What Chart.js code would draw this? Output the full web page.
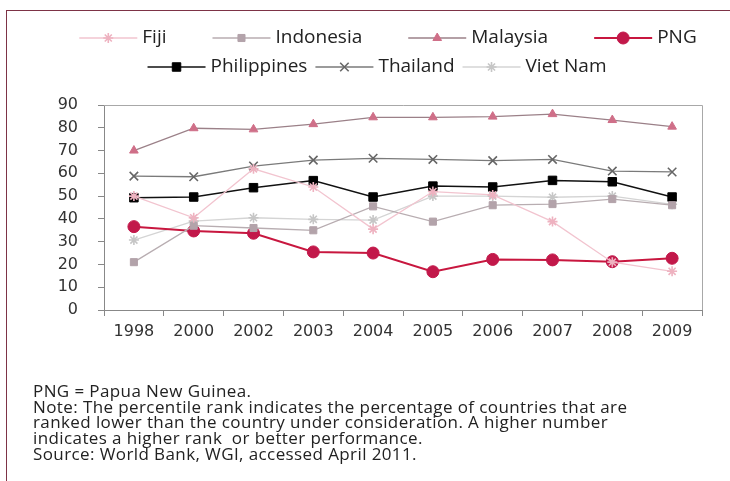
<!DOCTYPE html>
<html>
<head>
<meta charset="utf-8">
<script src="https://cdn.jsdelivr.net/npm/chart.js@4"></script>
<style>
  body { margin: 0; background: #fff; }
  #wrap { position: relative; width: 730px; height: 481px; overflow: hidden; }
  #frame { position: absolute; left: 6px; top: 10px; width: 760px; height: 500px;
           border-top: 1.5px solid #7d3346; border-left: 1.5px solid #7d3346; }
  canvas { position: absolute; left: 0; top: 0; }
  #notes { position: absolute; left: 33px; top: 383px; font-family: "Open Sans", sans-serif;
           font-size: 17px; line-height: 15.7px; color: #222; white-space: nowrap; letter-spacing: 0.4px; }
</style>
</head>
<body>
<div id="wrap">
  <div id="frame"></div>
  <canvas id="grafico" width="730" height="481"></canvas>
  <div id="notes">
    PNG = Papua New Guinea.<br>
    Note: The percentile rank indicates the percentage of countries that are<br>
    ranked lower than the country under consideration. A higher number<br>
    indicates a higher rank&nbsp; or better performance.<br>
    Source: World Bank, WGI, accessed April 2011.
  </div>
</div>
<script>
const anios = ['1998', '2000', '2002', '2003', '2004', '2005', '2006', '2007', '2008', '2009'];
const fiji        = [50, 40.5, 62, 54, 35.5, 52, 50.5, 38.8, 21, 17];
const indonesia   = [21, 37, 36, 35, 45.5, 38.8, 46, 46.5, 48.7, 46];
const malaysia    = [70, 79.8, 79.3, 81.6, 84.6, 84.6, 84.9, 86, 83.4, 80.5];
const png         = [36.6, 34.7, 33.7, 25.5, 25, 16.8, 22.2, 22, 21.2, 22.7];
const philippines = [49.3, 49.6, 53.7, 56.8, 49.6, 54.4, 54, 56.9, 56.3, 49.6];
const thailand    = [58.8, 58.5, 63.2, 65.8, 66.6, 66.1, 65.6, 66.1, 61, 60.6];
const vietnam     = [30.7, 39, 40.5, 39.8, 39.5, 50, 50, 49.5, 50, 46.4];
const ticksY = [0, 10, 20, 30, 40, 50, 60, 70, 80, 90];

function serie(label, data, linea, punto, estilo, radio, grosor) {
    return {
        label: label,
        data: data,
        borderColor: linea,
        backgroundColor: punto,
        pointBorderColor: punto,
        pointBackgroundColor: punto,
        pointStyle: estilo,
        pointRadius: radio,
        pointBorderWidth: estilo === 'crossRot' || estilo === 'star' ? 1.6 : 1,
        borderWidth: grosor,
        tension: 0
    };
}

const series = [
    serie('Fiji', fiji, '#f2c4cf', '#eeb2c0', 'star', 5, 1.3),
    serie('Indonesia', indonesia, '#b8adb1', '#b3a3aa', 'rect', 5, 1.3),
    serie('Malaysia', malaysia, '#9b8088', '#cf6f88', 'triangle', 5, 1.3),
    serie('PNG', png, '#c8173f', '#c2184a', 'circle', 6, 2),
    serie('Philippines', philippines, '#111111', '#000000', 'rect', 6, 1.5),
    serie('Thailand', thailand, '#7a7a7a', '#666666', 'crossRot', 6, 1.3),
    serie('Viet Nam', vietnam, '#d4d4d4', '#c6c6c6', 'star', 5, 1.3)
];

// leyenda con línea + marcador, dibujada en el canvas
const leyendaLineas = {
    id: 'leyendaLineas',
    afterDraw(chart) {
        const ctx = chart.ctx;
        const filas = [[0, 1, 2, 3], [4, 5, 6]];
        const ys = [38, 67];
        const centros = [388, 377];
        const separacion = [46, 8];
        const largo = 58;
        ctx.save();
        ctx.font = '19px "Open Sans"';
        ctx.textBaseline = 'middle';
        filas.forEach((fila, f) => {
            const anchos = fila.map(i => largo + 5 + ctx.measureText(chart.data.datasets[i].label).width);
            const total = anchos.reduce((a, b) => a + b, 0) + separacion[f] * (fila.length - 1);
            let x = centros[f] - total / 2;
            fila.forEach((i, k) => {
                const ds = chart.data.datasets[i];
                const y = ys[f];
                ctx.strokeStyle = ds.borderColor;
                ctx.lineWidth = ds.borderWidth;
                ctx.beginPath();
                ctx.moveTo(x, y);
                ctx.lineTo(x + largo, y);
                ctx.stroke();
                ctx.fillStyle = ds.pointBackgroundColor;
                ctx.strokeStyle = ds.pointBorderColor;
                ctx.lineWidth = ds.pointBorderWidth;
                Chart.helpers.drawPoint(ctx, {pointStyle: ds.pointStyle, radius: ds.pointRadius, rotation: 0, borderWidth: ds.pointBorderWidth}, x + largo / 2, y);
                ctx.fillStyle = '#222';
                ctx.fillText(ds.label, x + largo + 5, y);
                x += anchos[k] + separacion[f];
            });
        });
        ctx.restore();
    }
};

// borde superior y derecho del área de trazado
const cajaGrafico = {
    id: 'cajaGrafico',
    beforeDatasetsDraw(chart) {
        const a = chart.chartArea;
        const ctx = chart.ctx;
        ctx.save();
        ctx.strokeStyle = '#a8a8a8';
        ctx.lineWidth = 1;
        ctx.beginPath();
        ctx.moveTo(a.left, a.top + 0.5);
        ctx.lineTo(a.right + 0.5, a.top + 0.5);
        ctx.lineTo(a.right + 0.5, a.bottom);
        ctx.stroke();
        ctx.restore();
    }
};

window.addEventListener('DOMContentLoaded', () => {
    const canvas = document.getElementById('grafico').getContext('2d');
    new Chart(canvas, {
        type: 'line',
        data: { labels: anios, datasets: series },
        plugins: [leyendaLineas, cajaGrafico],
        options: {
            responsive: false,
            animation: false,
            layout: { padding: { top: 105, right: 28, bottom: 131, left: 0 } },
            plugins: { legend: { display: false }, tooltip: { enabled: false } },
            scales: {
                x: {
                    offset: true,
                    grid: { display: true, offset: true, drawOnChartArea: false, tickLength: 6, color: '#888' },
                    border: { display: true, color: '#888' },
                    ticks: { color: '#333', font: { family: 'DejaVu Sans', size: 16 }, padding: 6, maxRotation: 0 },
                    afterFit(scale) { scale.height = 40; }
                },
                y: {
                    min: 0,
                    max: 90,
                    afterBuildTicks(scale) { scale.ticks = ticksY.map(v => ({ value: v })); },
                    grid: { display: true, drawOnChartArea: false, tickLength: 6, color: '#888' },
                    border: { display: true, color: '#888' },
                    ticks: { color: '#333', font: { family: 'DejaVu Sans', size: 16 }, padding: 20 },
                    afterFit(scale) { scale.width = 104; }
                }
            }
        }
    });
});
</script>
</body>
</html>
